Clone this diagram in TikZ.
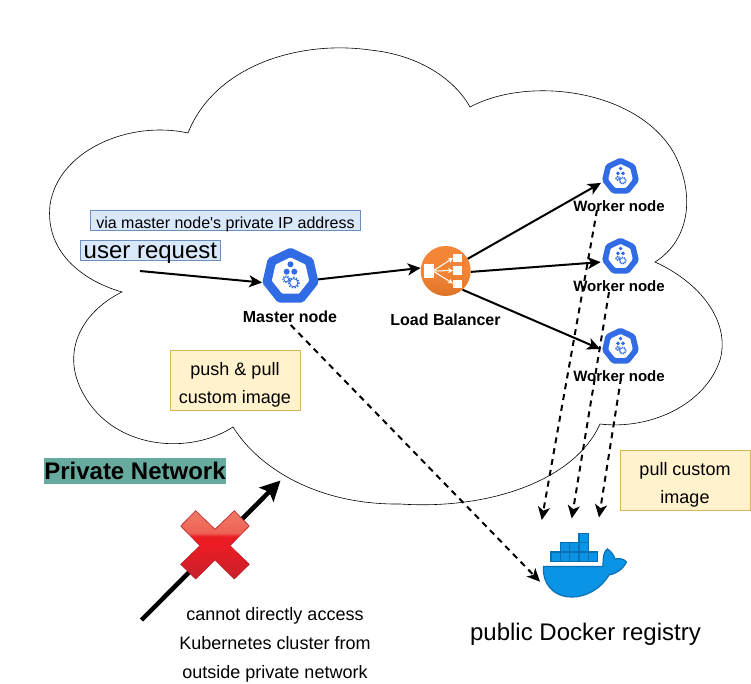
\documentclass[tikz,border=0pt]{standalone}
\usepackage{fontspec}
\setmainfont{Liberation Sans}
\usepackage{tikz}
\usetikzlibrary{arrows.meta,calc,positioning,shapes.geometric,shadings}
\definecolor{kubeblue}{HTML}{326CE5}
\definecolor{lborange}{HTML}{F58536}
\definecolor{lbdark}{HTML}{DD7428}
\definecolor{dockerblue}{HTML}{0B94E6}
\definecolor{dockerdark}{HTML}{0A70B4}
\definecolor{bluefill}{HTML}{DAE8FC}
\definecolor{blueline}{HTML}{6C8EBF}
\definecolor{yellowfill}{HTML}{FFF2CC}
\definecolor{yellowline}{HTML}{D6B656}
\definecolor{privategreen}{HTML}{67AB9F}
\definecolor{crosslow}{HTML}{C8202A}
\definecolor{crossmid}{HTML}{EC1C24}
\definecolor{crosshigh}{HTML}{F07A66}
\definecolor{crossline}{HTML}{B5202A}
\pgfdeclareverticalshading{crossred}{100bp}{
	color(0bp)=(crosslow);
	color(25bp)=(crosslow);
	color(50bp)=(crossmid);
	color(56bp)=(crossmid);
	color(59bp)=(crosshigh!75!crossmid);
	color(75bp)=(crosshigh);
	color(100bp)=(crosshigh)}
\tikzset{
	cloud_line/.style={draw=black,line width=0.6pt,fill=white},
	link/.style={draw=black,line width=2pt,-{Stealth[length=13pt,width=12pt,inset=3.5pt]}},
	dash_link/.style={draw=black,line width=2pt,dash pattern=on 6pt off 5pt,-{Stealth[length=13pt,width=12pt,inset=3.5pt]}},
	blue_label/.style={fill=bluefill,draw=blueline,line width=0.8pt,inner sep=0pt,minimum height=20.5pt,text height=16pt,text depth=0pt},
	yellow_label/.style={fill=yellowfill,draw=yellowline,line width=0.8pt,align=center,font=\fontsize{18}{28}\selectfont,minimum width=130pt,minimum height=60pt,inner sep=0pt},
	caption/.style={font=\fontsize{15}{18}\selectfont\bfseries},
	kube_node/.style={regular polygon,regular polygon sides=7,fill=kubeblue,minimum size=#1,inner sep=0pt,rounded corners=2pt},
	kube_core/.style={regular polygon,regular polygon sides=7,fill=white,minimum size=#1,inner sep=0pt,rounded corners=1pt}
}
% one icon: name, x, y, size
\newcommand{\kubeicon}[4]{
	\node[kube_node=#4pt](#1) at (#2,#3){};
	\node[kube_core=#4*0.66pt](#1_core) at (#2,#3){};
	\foreach \dx/\dy in {0/-0.21,-0.066/-0.083,0.066/-0.083}
		\fill[kubeblue] (#2+#4*\dx,#3+#4*\dy) circle (#4*0.052);
	\draw[kubeblue,line width=#4*0.014pt] (#2+#4*0.057,#3+#4*0.107) circle (#4*0.07);
	\draw[kubeblue,line width=#4*0.03pt,dash pattern=on #4*0.025pt off #4*0.025pt] (#2+#4*0.057,#3+#4*0.107) circle (#4*0.09);
	\draw[kubeblue,line width=#4*0.012pt] (#2-#4*0.074,#3+#4*0.048) circle (#4*0.04);
	\draw[kubeblue,line width=#4*0.022pt,dash pattern=on #4*0.02pt off #4*0.02pt] (#2-#4*0.074,#3+#4*0.048) circle (#4*0.056);
}
\begin{document}
\begin{tikzpicture}[x=1pt,y=-1pt]
	\useasboundingbox (0,0) rectangle (751,684);
	% cloud
	\draw[cloud_line] (122,292)
		.. controls (80,280) and (45,250) .. (50,205)
		.. controls (58,150) and (130,120) .. (188,133)
		.. controls (215,65) and (300,40) .. (370,50)
		.. controls (420,55) and (455,80) .. (470,107)
		.. controls (530,75) and (640,90) .. (675,155)
		.. controls (695,195) and (690,240) .. (655,262)
		.. controls (705,285) and (730,325) .. (720,360)
		.. controls (705,405) and (650,430) .. (600,424)
		.. controls (575,480) and (490,510) .. (400,504)
		.. controls (320,505) and (260,470) .. (233,427)
		.. controls (190,455) and (115,450) .. (84,395)
		.. controls (58,350) and (85,310) .. (122,292) -- cycle;
	% labels
	\node[blue_label,font=\fontsize{16}{18}\selectfont,minimum width=270pt](via) at (225.5,220.4){via master node\textquotesingle s private IP address};
	\node[blue_label,font=\fontsize{24}{26}\selectfont,minimum width=140pt](request) at (150.4,250.4){user request};
	\node[yellow_label](push) at (235,380){\rule{0pt}{23pt}push \& pull\\custom image};
	\node[yellow_label](pull) at (685,480){\rule{0pt}{23pt}pull custom\\image};
	\node[fill=privategreen,font=\fontsize{24}{26}\selectfont\bfseries,minimum width=182pt,minimum height=26pt,inner sep=0pt](private) at (135,471){Private Network};
	% icons
	\kubeicon{master}{290.5}{276.5}{58}
	\kubeicon{worker_a}{620.5}{176.5}{38}
	\kubeicon{worker_b}{620.5}{256.5}{38}
	\kubeicon{worker_c}{620.5}{346.5}{38}
	\node[caption,font=\fontsize{16}{18}\selectfont\bfseries](master_text) at (290,317){Master node};
	\node[caption](worker_a_text) at (619,206){Worker node};
	\node[caption](worker_b_text) at (619,286){Worker node};
	\node[caption](worker_c_text) at (619,376){Worker node};
	% load balancer
	\node[circle,top color=lborange,bottom color=lbdark,middle color=lborange,minimum size=50pt,inner sep=0pt](lb) at (445.7,271){};
	\fill[white] (424.3,264) rectangle (434,278.3);
	\foreach \yy in {258,270.5,283.5}{
		\fill[white] (453.3,\yy-4) rectangle (461.7,\yy+4);
		\draw[white,line width=1pt,-{Stealth[length=5pt,width=5pt]}] (433,271) -- (453,\yy);
	}
	\node[caption,font=\fontsize{16}{18}\selectfont\bfseries](lb_text) at (445.5,320){Load Balancer};
	% free ends
	\coordinate (req_start) at (140,271);
	\coordinate (master_out) at (290.7,325);
	\coordinate (wa_out) at (597,210);
	\coordinate (wb_out) at (609,292);
	\coordinate (wc_out) at (621,378);
	\coordinate (reg_a) at (541.7,520);
	\coordinate (reg_b) at (571.7,518.5);
	\coordinate (reg_c) at (599,517.5);
	\coordinate (reg_d) at (540,581.7);
	\coordinate (out_start) at (141.5,620);
	\coordinate (out_end) at (280.5,480.5);
	% links
	\draw[link] (req_start) -- (master.192);
	\draw[link] (master.-6) -- (lb.173);
	\draw[link,shorten >=2pt] (lb.29) -- (worker_a.197);
	\draw[link,shorten >=2pt] (lb.-2) -- (worker_b.197);
	\draw[link,shorten >=2pt] (lb.-48) -- (worker_c.190);
	\draw[dash_link] (wa_out) -- (reg_a);
	\draw[dash_link] (wb_out) -- (reg_b);
	\draw[dash_link] (wc_out) -- (reg_c);
	\draw[dash_link] (master_out) -- (reg_d);
	\draw[draw=black,line width=4.5pt,-{Stealth[length=20pt,width=20pt,inset=4pt]}] (out_start) -- (out_end);
	% cross
	\shade[shading=crossred,draw=crossline,line width=0.6pt]
		(195.7,510.7) -- (215,529.3) -- (234.3,510.7) -- (249.3,526) -- (230,545.7) -- (249.3,564.3) -- (234.3,579) -- (215,560) -- (195.7,579) -- (180.7,564.3) -- (200,545.7) -- (180.7,526) -- cycle;
	% docker
	\foreach \xx/\yy in {551/552,560.3/552,569.6/552,578.9/552,588.2/552,560.3/542.7,569.6/542.7,578.9/542.7,578.9/533.4}
		\fill[dockerblue,draw=dockerdark,line width=1.2pt] (\xx,\yy) rectangle +(9.3,9.3);
	\fill[dockerblue,draw=dockerdark,line width=1.2pt] (543.5,566.5) -- (603,566.5) .. controls (603,556) and (604,551) .. (607.5,549) .. controls (612,552) and (614,556) .. (615,559) .. controls (620,558) and (624,559) .. (626.5,562) .. controls (622,571) and (614,574) .. (609,575) .. controls (600,590) and (585,597) .. (572,597) .. controls (552,597) and (542,582) .. (543.5,566.5) -- cycle;
	% bottom text
	\node[font=\fontsize{18}{29}\selectfont,align=center](blocked) at (275,645){cannot directly access\\Kubernetes cluster from\\outside private network};
	\node[font=\fontsize{24}{26}\selectfont](registry) at (585.5,634){public Docker registry};
\end{tikzpicture}
\end{document}
